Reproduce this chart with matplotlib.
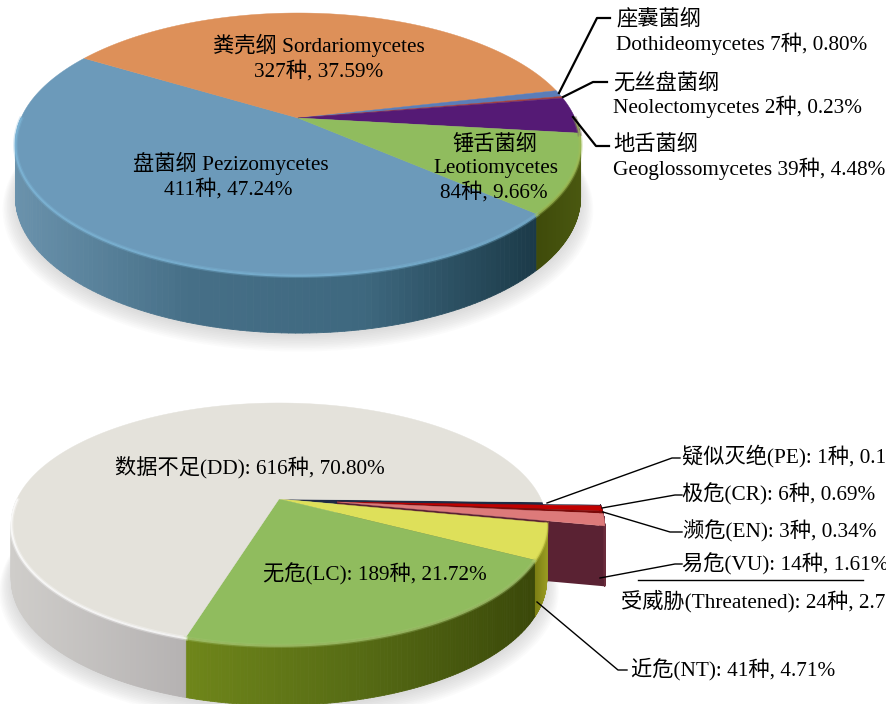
import numpy as np
import matplotlib
matplotlib.use("Agg")
import matplotlib.pyplot as plt
from matplotlib.collections import PolyCollection
from matplotlib.colors import to_rgb

plt.rcParams["font.family"] = ["Liberation Serif", "Noto Sans CJK SC"]

# class data (top pie), clockwise on screen from the blue slice
class_counts = [411, 327, 7, 2, 39, 84]
class_pcts = [47.24, 37.59, 0.80, 0.23, 4.48, 9.66]
class_cn = ["盘菌纲", "粪壳纲", "座囊菌纲", "无丝盘菌纲", "地舌菌纲", "锤舌菌纲"]
class_en = ["Pezizomycetes", "Sordariomycetes", "Dothideomycetes", "Neolectomycetes", "Geoglossomycetes", "Leotiomycetes"]

# IUCN data (bottom pie), clockwise on screen from the extinct slice
iucn_counts = [1, 6, 3, 14, 41, 189, 616]
iucn_pcts = [0.11, 0.69, 0.34, 1.61, 4.71, 21.72, 70.80]
iucn_names = ["疑似灭绝(PE)", "极危(CR)", "濒危(EN)", "易危(VU)", "近危(NT)", "无危(LC)", "数据不足(DD)"]
threatened_n = 24
threatened_pct = 2.76

W, H = 887, 704
fig = plt.figure(figsize=(W / 100, H / 100), dpi=100)
ax = fig.add_axes([0, 0, 1, 1])
ax.set_xlim(0, W)
ax.set_ylim(H, 0)
ax.axis("off")


def rim(theta, g, dx=0, dy=0):
    # circle point seen in perspective, theta in degrees clockwise on screen
    t = np.radians(theta)
    w = 1 - g["k"] * np.sin(t)
    x = g["cx"] + dx + g["R"] * np.cos(t) / w
    y = g["cy"] + dy + g["Ry"] * np.sin(t) / w
    return x, y


def depth(theta, g):
    return g["T"] * (1 + 0.12 * np.sin(np.radians(theta)))


def shade(stops, f):
    f = np.clip(f, 0, 1)
    pos = np.linspace(0, 1, len(stops))
    rgb = np.array([to_rgb(c) for c in stops])
    return [np.interp(f, pos, rgb[:, i]) for i in range(3)]


def front(a0, a1, n):
    # only the run of the rim that faces the viewer (angles 0..180, also after a wrap)
    if a1 > 360 and a0 >= 180:
        a0, a1 = 360, a1
    elif a0 < 180:
        a1 = min(a1, 180)
    elif a1 <= 360:
        return np.array([])
    return np.linspace(a0, a1, n)


def draw_wall(a0, a1, stops, g, dx=0, dy=0, z=2):
    # slices that cross 360 keep their visible part past the wrap
    th = front(a0, a1, 120)
    if len(th) < 2:
        return
    x, y = rim(th, g, dx, dy)
    d = depth(th, g)
    quads, cols = [], []
    lo, hi = x.min(), x.max()
    for i in range(len(th) - 1):
        quads.append([(x[i], y[i]), (x[i + 1], y[i + 1]), (x[i + 1], y[i + 1] + d[i + 1]), (x[i], y[i] + d[i])])
        cols.append(shade(stops, ((x[i] + x[i + 1]) / 2 - lo) / max(hi - lo, 1)))
    ax.add_collection(PolyCollection(quads, facecolors=cols, edgecolors=cols, linewidths=0.6, zorder=z))


def draw_face(a0, a1, color, g, dx=0, dy=0, z=3):
    th = np.linspace(a0, a1, 160)
    x, y = rim(th, g, dx, dy)
    ax.fill(np.r_[g["cx"] + dx, x], np.r_[g["cy"] + dy, y], color=color, lw=0.3, zorder=z)


def draw_edge(a0, a1, color, g, z):
    th = front(a0, a1, 200)
    if len(th) < 2:
        return
    x, y = rim(th, g)
    ax.plot(x, y + 1, color=color, lw=3.2, alpha=0.3, zorder=z)
    ax.plot(x, y + 1, color=color, lw=1.4, alpha=0.75, zorder=z)


def draw_shadow(g):
    th = np.linspace(0, 360, 300)
    x, y = rim(th, g)
    mx, my = x.mean(), y.mean()
    for i in range(10):
        s = 1.0 + 0.005 * i
        ax.fill(mx + (x - mx) * s, my + (y - my) * s + depth(th, g) + 3 + i, color="#555555", alpha=0.018, lw=0, zorder=1)


def leader(xs, ys, lw):
    ax.plot(xs, ys, color="black", lw=lw, solid_joinstyle="round", zorder=6)


def label(x, y, s, ha="left"):
    ax.text(x, y, s, ha=ha, va="center", fontsize=15.3, color="black", zorder=7)


# top pie
g1 = dict(cx=298, cy=118, R=277, Ry=125.8, k=0.198, T=52)
face1 = ["#6C9ABA", "#DD9059", "#5B7DB8", "#A04040", "#551A75", "#90BC5E"]
wall1 = [["#6A92AC", "#466F87", "#3E687F", "#1B3A48"], ["#A86C40", "#A86C40"], ["#3F5A8A", "#3F5A8A"],
         ["#702020", "#702020"], ["#3A1050", "#3A1050"], ["#3F4B0A", "#4A5810"]]
rim1 = ["#7FB8DA", "#DD9059", "#5B7DB8", "#A04040", "#551A75", "#A0BE58"]
draw_shadow(g1)
sweep1 = np.array(class_counts) / sum(class_counts) * 360
edges1 = 41.5 + np.r_[0, np.cumsum(sweep1)]
for i in range(len(sweep1)):
    a0, a1 = edges1[i], edges1[i + 1]
    draw_wall(a0, a1, wall1[i], g1)
    draw_face(a0, a1, face1[i], g1)
    draw_edge(a0, a1, rim1[i], g1, 4)

label(319, 45, f"{class_cn[1]} {class_en[1]}", "center")
label(319, 71, f"{class_counts[1]}种, {class_pcts[1]:.2f}%", "center")
label(231, 163, f"{class_cn[0]} {class_en[0]}", "center")
label(228, 189, f"{class_counts[0]}种, {class_pcts[0]:.2f}%", "center")
label(495, 144, class_cn[5], "center")
label(496, 168, class_en[5], "center")
label(494, 192, f"{class_counts[5]}种, {class_pcts[5]:.2f}%", "center")
label(616, 19, class_cn[2])
label(616, 44, f"{class_en[2]} {class_counts[2]}种, {class_pcts[2]:.2f}%")
label(613, 83, class_cn[3])
label(613, 107, f"{class_en[3]} {class_counts[3]}种, {class_pcts[3]:.2f}%")
label(613, 145, class_cn[4])
label(613, 169, f"{class_en[4]} {class_counts[4]}种, {class_pcts[4]:.2f}%")
leader([559, 597, 610], [93, 18, 18], 1.6)
leader([563, 593, 607], [97, 82, 82], 1.6)
leader([573, 596, 609], [117, 146, 146], 1.6)

# bottom pie, the four threatened slices are pulled out to the right
g2 = dict(cx=279, cy=499, R=262, Ry=115.8, k=0.206, T=54)
g2_pulled = dict(g2, T=59)
face2 = ["#1F2A44", "#C00000", "#7A0A0A", "#DD7A7A", "#DEE05A", "#90BC5E", "#E4E2DB"]
wall2 = [["#5A2233", "#5A2233"], ["#5A2233", "#5A2233"], ["#5A2233", "#5A2233"], ["#5A2233", "#6B2C3C"],
         ["#7C7F14", "#9A9C22"], ["#6F861A", "#566B14", "#3A4809"], ["#CFCDCA", "#B5B2B2"]]
rim2 = [None, None, None, None, "#DEE05A", "#A3C46F", "#FFFFFF"]
pull_x, pull_y = 58, 3
draw_shadow(g2)
sweep2 = np.array(iucn_counts) / sum(iucn_counts) * 360
edges2 = 1.5 + np.r_[0, np.cumsum(sweep2)]
n_threat = 4

# inside of the gap left by the pulled slices
th = np.linspace(edges2[0], edges2[n_threat], 30)
x, y = rim(th, g2)
ax.fill(np.r_[g2["cx"], x], np.r_[g2["cy"], y], color="#1F2A44", lw=0, zorder=2)

# cut side of the pulled slices
xe, ye = rim(edges2[n_threat], g2, pull_x, pull_y)
de = depth(edges2[n_threat], g2_pulled)
ax.fill([g2["cx"] + pull_x, xe, xe, g2["cx"] + pull_x],
        [g2["cy"] + pull_y, ye, ye + de, g2["cy"] + pull_y + de], color="#5A2233", lw=0, zorder=2)
for i in range(n_threat):
    draw_wall(edges2[i], edges2[i + 1], wall2[i], g2_pulled, pull_x, pull_y, z=2)
    draw_face(edges2[i], edges2[i + 1], face2[i], g2, pull_x, pull_y, z=3)
for i in range(n_threat, len(sweep2)):
    a0, a1 = edges2[i], edges2[i + 1]
    draw_wall(a0, min(a1, 180), wall2[i], g2, z=3)
    draw_face(a0, a1, face2[i], g2, z=4)
    draw_edge(a0, min(a1, 180), rim2[i], g2, 5)

label(250, 467, f"{iucn_names[6]}: {iucn_counts[6]}种, {iucn_pcts[6]:.2f}%", "center")
label(375, 574, f"{iucn_names[5]}: {iucn_counts[5]}种, {iucn_pcts[5]:.2f}%", "center")
label(682, 456, f"{iucn_names[0]}: {iucn_counts[0]}种, {iucn_pcts[0]:.2f}%")
label(682, 494, f"{iucn_names[1]}: {iucn_counts[1]}种, {iucn_pcts[1]:.2f}%")
label(683, 531, f"{iucn_names[2]}: {iucn_counts[2]}种, {iucn_pcts[2]:.2f}%")
label(682, 564, f"{iucn_names[3]}: {iucn_counts[3]}种, {iucn_pcts[3]:.2f}%")
label(621, 601, f"受威胁(Threatened): {threatened_n}种, {threatened_pct:.2f}%")
label(631, 669, f"{iucn_names[4]}: {iucn_counts[4]}种, {iucn_pcts[4]:.2f}%")
leader([547, 672, 680], [503, 458, 458], 1)
leader([602, 675, 682], [508, 495, 495], 1)
leader([603, 670, 682], [512, 532, 532], 1)
leader([600, 675, 682], [578, 564, 564], 1)
leader([638, 863], [580, 580], 1)
leader([537, 618, 627], [602, 670, 670], 1)

fig.savefig("out.png", dpi=100)
